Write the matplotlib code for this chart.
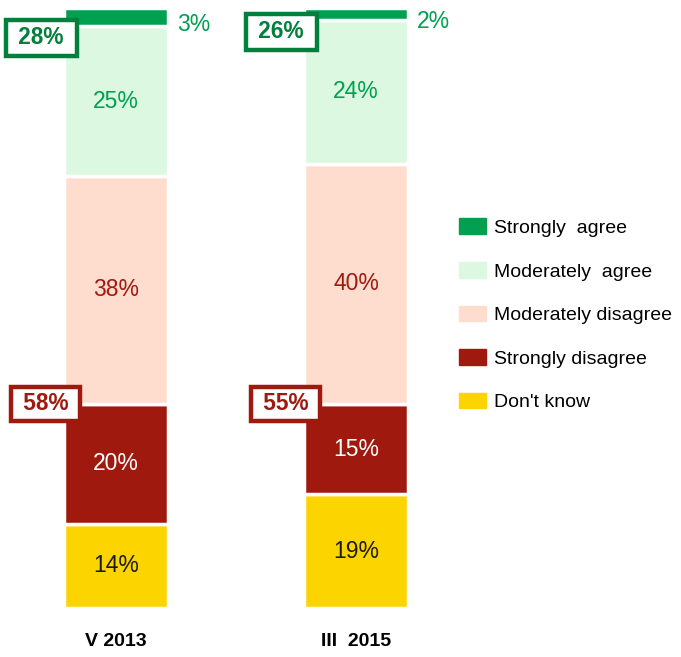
import numpy as np
import matplotlib.pyplot as plt
from matplotlib.patches import Patch

plt.rcParams['font.family'] = ['Liberation Sans', 'DejaVu Sans']

# data
periods = ["V 2013", "III  2015"]
categories = ["Strongly  agree", "Moderately  agree", "Moderately disagree",
              "Strongly disagree", "Don't know"]
strongly_agree = [3, 2]
moderately_agree = [25, 24]
moderately_disagree = [38, 40]
strongly_disagree = [20, 15]
dont_know = [14, 19]
agree_total = [28, 26]
disagree_total = [58, 55]

# styles
colors = ["#00A050", "#DCF8E0", "#FEDCCE", "#A0190F", "#FCD400"]
text_colors = ["#00A050", "#00A050", "#A0190F", "white", "#1a1a1a"]
W, H = 681, 657
xpos = [116, 356]
bar_w = 104

fig = plt.figure(figsize=(W / 100, H / 100), dpi=100)
ax = fig.add_axes([0, 49 / H, 1, 600 / H])
ax.set_xlim(0, W)
ax.set_ylim(0, 100)
ax.axis("off")

# stack from the bottom up
series = [dont_know, strongly_disagree, moderately_disagree, moderately_agree, strongly_agree]
cols = colors[::-1]
tcols = text_colors[::-1]
bottom = np.zeros(2)
for vals, c, tc in zip(series, cols, tcols):
    vals = np.array(vals)
    ax.bar(xpos, vals, bottom=bottom, width=bar_w, color=c, edgecolor="white", linewidth=2.5)
    for i in range(2):
        mid = bottom[i] + vals[i] / 2
        if vals[i] < 5:
            ax.text(xpos[i] + bar_w / 2 + 9, mid - 1.2, f"{vals[i]}%", color=tc, fontsize=16.5,
                    ha="left", va="center")
        else:
            ax.text(xpos[i], mid, f"{vals[i]}%", color=tc, fontsize=16.5, ha="center", va="center")
    bottom = bottom + vals

# summary boxes
sd_top = np.array(dont_know) + np.array(strongly_disagree)
for i in range(2):
    top_ma = 100 - strongly_agree[i]
    ax.text(xpos[i] - bar_w / 2 + 6, top_ma - 2.0, f" {agree_total[i]}% ", color="#00803C",
            fontsize=16.3, fontweight="bold", ha="right", va="center",
            bbox=dict(boxstyle="square,pad=0.29", fc="white", ec="#00803C", lw=3.2))
    ax.text(xpos[i] - bar_w / 2 + 10.5, sd_top[i], f" {disagree_total[i]}% ", color="#A0190F",
            fontsize=16.3, fontweight="bold", ha="right", va="center",
            bbox=dict(boxstyle="square,pad=0.26", fc="white", ec="#A0190F", lw=3.2))

# period labels
for i in range(2):
    ax.text(xpos[i], -5.5, periods[i], fontsize=14, fontweight="bold", ha="center", va="center")

handles = [Patch(color=c, label=l) for c, l in zip(colors, categories)]
fig.legend(handles=handles, loc="upper left", bbox_to_anchor=(441 / W, 1 - 201 / H),
           frameon=False, fontsize=14, handlelength=1.4, handleheight=0.85,
           labelspacing=1.29, handletextpad=0.4, borderpad=0.4)

fig.savefig("out.png", dpi=100)
